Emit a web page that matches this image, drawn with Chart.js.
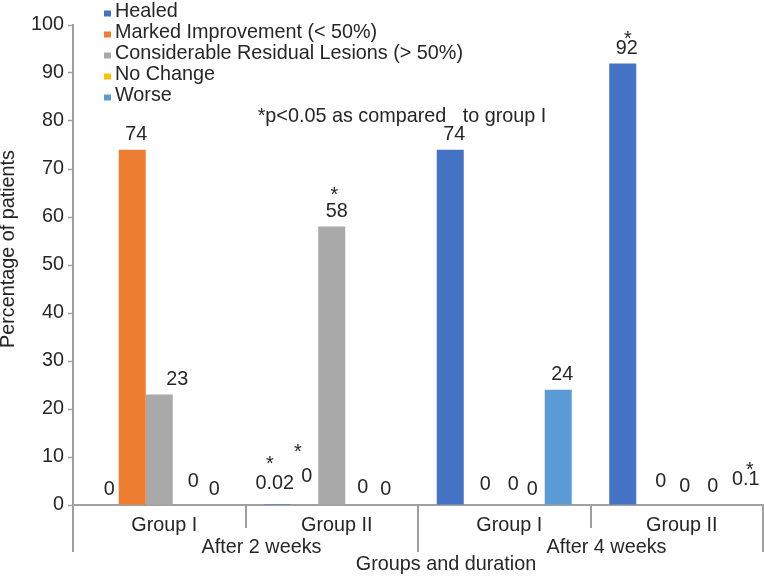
<!DOCTYPE html>
<html>
<head>
<meta charset="utf-8">
<script src="https://cdn.jsdelivr.net/npm/chart.js@4"></script>
<style>
  html, body { margin: 0; padding: 0; background: #fff; }
</style>
</head>
<body>
<canvas id="chart" width="764" height="576"></canvas>
<script>
const groups = ['Group I', 'Group II', 'Group I', 'Group II']
const periods = ['After 2 weeks', 'After 4 weeks']
const seriesNames = ['Healed', 'Marked Improvement (< 50%)', 'Considerable Residual Lesions (> 50%)', 'No Change', 'Worse']
const healed = [0, 0.02, 74, 92]
const marked = [74, 0, 0, 0]
const residual = [23, 58, 0, 0]
const noChange = [0, 0, 0, 0]
const worse = [0, 0, 24, 0.1]
// [series, group] pairs marked with * (p<0.05 vs group I)
const starred = [[0, 1], [1, 1], [2, 1], [0, 3], [4, 3]]
const footnote = '*p<0.05 as compared   to group I'
const yTitle = 'Percentage of patients'
const xTitle = 'Groups and duration'

// styles
const colors = ['#4472C4', '#ED7D31', '#A9A9A9', '#FFC000', '#5B9BD5']
const FAMILY = '"Liberation Sans", Arial, sans-serif'
const SIZE = 19.8
const FONT = SIZE + 'px ' + FAMILY
const TEXT = '#262626'
const AXIS = '#A0A0A0'
// the original has hand-moved data labels, so nudge a few of them
const labelNudge = {
  '2,0': [14, 0], '3,0': [3, -8], '4,0': [-3, 0],
  '0,1': [-7, -6], '1,1': [-2, -13], '2,1': [1, 0], '3,1': [0, -2], '4,1': [-4, 0],
  '1,2': [4, -5], '2,2': [5, -5], '3,2': [-3, 0],
  '1,3': [7, -8], '2,3': [4, -3], '3,3': [5, -3], '4,3': [11, -10]
}
const starNudge = { '0,1': [-5, -24], '1,1': [-9, -29], '2,1': [-2.5, -21], '0,3': [1, -13], '4,3': [4, -13] }

const seriesData = [healed, marked, residual, noChange, worse]

const extras = {
  id: 'extras',
  afterDatasetsDraw(chart) {
    const ctx = chart.ctx
    ctx.save()
    ctx.font = FONT
    ctx.fillStyle = TEXT
    ctx.textAlign = 'center'
    ctx.textBaseline = 'middle'
    const pos = {}
    chart.data.datasets.forEach((ds, s) => {
      chart.getDatasetMeta(s).data.forEach((bar, g) => {
        const n = labelNudge[s + ',' + g] || [0, 0]
        const x = bar.x + 4 + n[0]
        const y = bar.y - 15 + n[1]
        pos[s + ',' + g] = [x, y]
        ctx.fillText(String(ds.data[g]), x, y)
      })
    })
    starred.forEach(([s, g]) => {
      const p = pos[s + ',' + g]
      const n = starNudge[s + ',' + g] || [0, -15]
      ctx.fillText('*', p[0] + n[0], p[1] + n[1] + 4.5)
    })
    ctx.restore()
  },
  afterDraw(chart) {
    const ctx = chart.ctx
    const area = chart.chartArea
    const xs = chart.scales.x
    const cw = (xs.right - xs.left) / groups.length
    ctx.save()

    // category dividers below the axis
    ctx.strokeStyle = AXIS
    ctx.lineWidth = 2
    for (let k = 0; k <= groups.length; k++) {
      const x = Math.round(xs.left + k * cw)
      const len = k % 2 ? 23 : 47
      ctx.beginPath()
      ctx.moveTo(x, area.bottom)
      ctx.lineTo(x, area.bottom + len)
      ctx.stroke()
    }

    ctx.font = FONT
    ctx.fillStyle = TEXT
    ctx.textAlign = 'center'
    ctx.textBaseline = 'middle'
    periods.forEach((p, i) => {
      ctx.fillText(p, xs.left + (2 * i + 1) * cw + 16, 548)
    })
    ctx.fillText(xTitle, (area.left + area.right) / 2 + 28, 565)
    ctx.fillText(footnote, 402, 117)

    ctx.save()
    ctx.translate(9, 249)
    ctx.rotate(-Math.PI / 2)
    ctx.fillText(yTitle, 0, 0)
    ctx.restore()

    // legend, stacked in a column at the top left
    ctx.textAlign = 'left'
    ctx.textBaseline = 'alphabetic'
    seriesNames.forEach((name, i) => {
      const base = 16.5 + 21 * i
      ctx.fillStyle = colors[i]
      ctx.fillRect(104, base - 6, 7, 6)
      ctx.fillStyle = TEXT
      ctx.fillText(name, 115, base)
    })
    ctx.restore()
  }
}

new Chart(document.getElementById('chart'), {
  type: 'bar',
  data: {
    labels: groups,
    datasets: seriesNames.map((name, i) => ({
      label: name,
      data: seriesData[i],
      backgroundColor: colors[i],
      borderWidth: 0
    }))
  },
  options: {
    responsive: false,
    animation: false,
    layout: { padding: { top: 25, right: 1, left: 0, bottom: 0 } },
    plugins: { legend: { display: false }, tooltip: { enabled: false } },
    datasets: { bar: { categoryPercentage: 0.7826, barPercentage: 1 } },
    scales: {
      x: {
        grid: { display: false },
        border: { display: true, color: AXIS, width: 2 },
        ticks: { font: { family: FAMILY, size: SIZE }, color: TEXT, padding: 1, labelOffset: 5 },
        afterFit(s) { s.height = 71 }
      },
      y: {
        min: 0,
        max: 100,
        ticks: { stepSize: 10, font: { family: FAMILY, size: SIZE }, color: TEXT, padding: 4 },
        grid: { drawOnChartArea: false, drawTicks: true, tickLength: 5, tickColor: AXIS, tickWidth: 1.5 },
        border: { color: AXIS, width: 2 },
        afterFit(s) { s.width = 73 }
      }
    }
  },
  plugins: [extras]
})
</script>
</body>
</html>
